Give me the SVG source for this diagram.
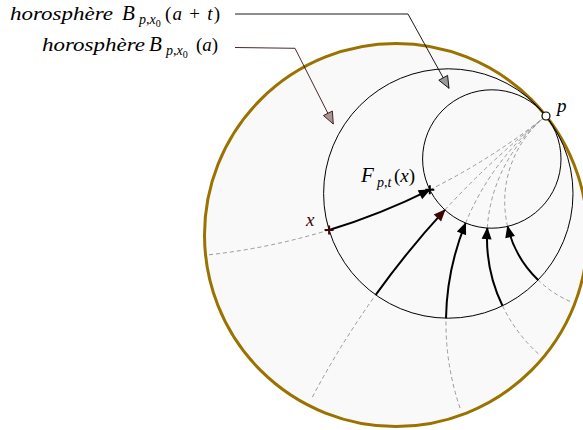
<svg xmlns="http://www.w3.org/2000/svg" width="583" height="430" viewBox="0 0 583 430">
<style>
.t{font-family:"Liberation Serif","Times New Roman",serif;font-size:19px;fill:#000}
.i{font-style:italic}
.b{font-size:21px}
.s{font-size:14px}
.ss{font-size:10px}
.geo{fill:none;stroke:#9a9a9a;stroke-width:1;stroke-dasharray:4 3}
.arr{fill:none;stroke:#000;stroke-width:2}
.horo{fill:none;stroke:#000;stroke-width:1}
</style>
<defs>
<marker id="ah" markerUnits="userSpaceOnUse" markerWidth="14" markerHeight="10" refX="11" refY="5" orient="auto" overflow="visible">
<path d="M0,0 L12,5 L0,10 Z" fill="#000"/>
</marker>
<marker id="ahr" markerUnits="userSpaceOnUse" markerWidth="14" markerHeight="10" refX="11" refY="5" orient="auto" overflow="visible">
<path d="M0,0 L12,5 L0,10 Z" fill="#3a0606"/>
</marker>
<marker id="lab1" markerUnits="userSpaceOnUse" markerWidth="14" markerHeight="12" refX="12" refY="5" orient="auto" overflow="visible">
<path d="M0,0 L12,5 L0,10 Z" fill="#999" stroke="#000" stroke-width="0.8"/>
</marker>
<marker id="lab2" markerUnits="userSpaceOnUse" markerWidth="14" markerHeight="12" refX="12" refY="5" orient="auto" overflow="visible">
<path d="M0,0 L12,5 L0,10 Z" fill="#a49696" stroke="#3a0f0f" stroke-width="0.8"/>
</marker>
</defs>

<g id="disk">
<circle cx="396" cy="235" r="191.5" fill="#f9f9f9" stroke="#9a7200" stroke-width="3"/>
</g>

<g id="horosphere-a">
<circle class="horo" cx="448.3" cy="193.5" r="124.7"/>
</g>
<g id="horosphere-at">
<circle class="horo" cx="491.8" cy="159" r="69.2"/>
</g>

<g id="connectors">
<path class="geo" d="M209,254.8 A659.4,659.4 0 0 0 329.1,230"/>
<path class="geo" d="M429.8,189.8 A659.4,659.4 0 0 0 546,116"/>
<path class="arr" marker-end="url(#ah)" d="M329.1,230 A659.4,659.4 0 0 0 429.8,189.8"/>

<path class="geo" d="M312.4,397 A890,890 0 0 1 375.7,294.9"/>
<path class="geo" d="M444.9,209.9 A890,890 0 0 1 546,116"/>
<path class="arr" marker-end="url(#ahr)" d="M375.7,294.9 A890,890 0 0 1 444.9,209.9"/>

<path class="geo" d="M460,408 A264.3,264.3 0 0 1 446,318.2"/>
<path class="geo" d="M465.6,223.1 A264.3,264.3 0 0 1 546,116"/>
<path class="arr" marker-end="url(#ah)" d="M446,318.2 A264.3,264.3 0 0 1 465.6,223.1"/>

<path class="geo" d="M538.3,353.7 A155.9,155.9 0 0 1 502.5,305.8"/>
<path class="geo" d="M487.3,228.1 A155.9,155.9 0 0 1 546,116"/>
<path class="arr" marker-end="url(#ah)" d="M502.5,305.8 A155.9,155.9 0 0 1 487.3,228.1"/>

<path class="geo" d="M570,301.4 A109.1,109.1 0 0 1 538.1,280"/>
<path class="geo" d="M507.6,226.4 A109.1,109.1 0 0 1 546,116"/>
<path class="arr" marker-end="url(#ah)" d="M538.1,280 A109.1,109.1 0 0 1 507.6,226.4"/>

<path fill="none" stroke="#000" stroke-width="0.9" marker-end="url(#lab1)" d="M235,14 L408,14 L449,88.3"/>
<path fill="none" stroke="#3a0f0f" stroke-width="0.9" marker-end="url(#lab2)" d="M235,47.5 L295,48.3 L333.3,124"/>
</g>

<g id="x-point">
<path d="M324.6,230 H333.6 M329.1,225.5 V234.5" stroke="#3d0808" stroke-width="2" fill="none"/>
<text class="t i" x="306" y="226" style="fill:#3d0808">x</text>
</g>

<g id="fx-point">
<path d="M425.3,189.8 H434.3 M429.8,185.3 V194.3" stroke="#000" stroke-width="2" fill="none"/>
<text class="t" y="182"><tspan class="i b" x="361">F</tspan><tspan class="i s" x="377" dy="5">p</tspan><tspan class="s">,</tspan><tspan class="i s">t</tspan><tspan x="394" dy="-5">(</tspan><tspan class="i">x</tspan><tspan>)</tspan></text>
</g>

<g id="p-point">
<circle cx="546" cy="116" r="4" fill="#fff" stroke="#000" stroke-width="1.2"/>
<text class="t i" x="557" y="112">p</text>
</g>

<g id="label-at">
<text class="t i" x="10" y="20" textLength="103" lengthAdjust="spacingAndGlyphs">horosphère</text>
<text class="t i b" x="122" y="20">B</text>
<text class="t" y="24" x="139"><tspan class="i s">p</tspan><tspan class="s">,</tspan><tspan class="i s">x</tspan><tspan class="ss" dy="3">0</tspan></text>
<text class="t" x="165" y="20" textLength="55">(<tspan class="i">a</tspan> + <tspan class="i">t</tspan>)</text>
</g>

<g id="label-a">
<text class="t i" x="42" y="51" textLength="103" lengthAdjust="spacingAndGlyphs">horosphère</text>
<text class="t i b" x="149" y="51">B</text>
<text class="t" y="55" x="166"><tspan class="i s">p</tspan><tspan class="s">,</tspan><tspan class="i s">x</tspan><tspan class="ss" dy="3">0</tspan></text>
<text class="t" x="196" y="51">(<tspan class="i">a</tspan>)</text>
</g>
</svg>
